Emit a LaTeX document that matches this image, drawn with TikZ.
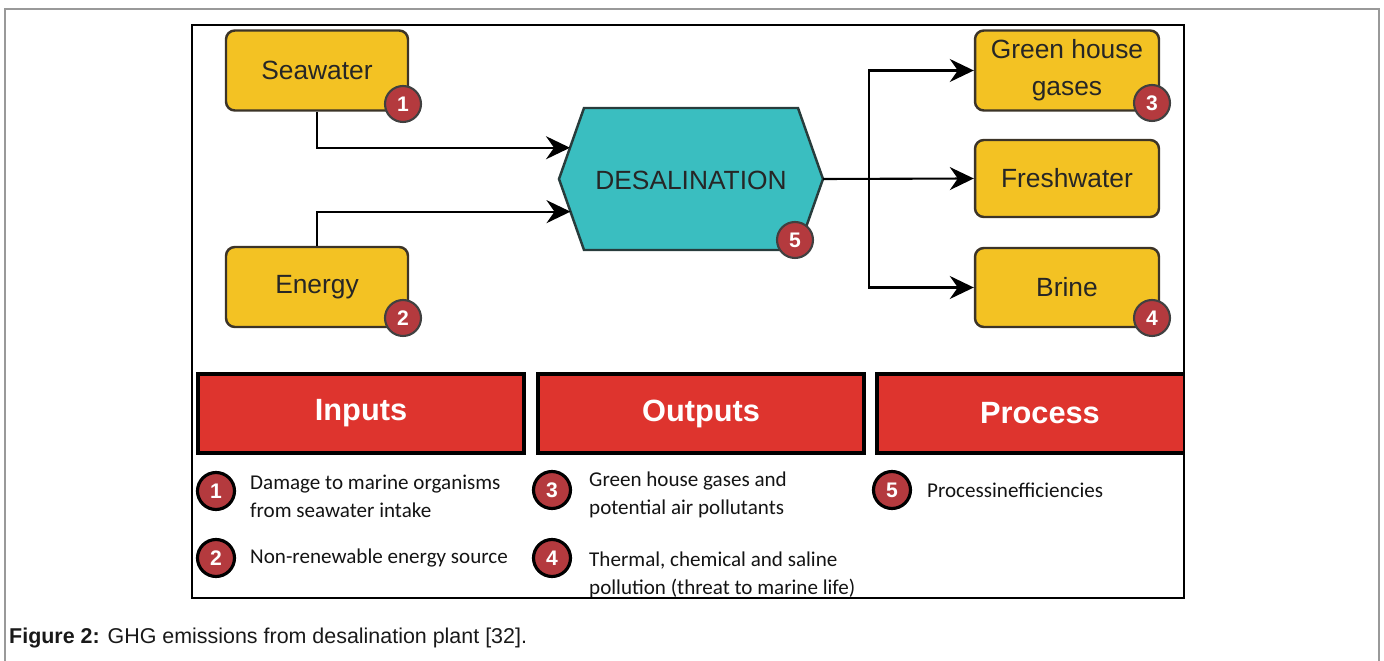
\documentclass[tikz,border=0pt]{standalone}
\usepackage{fontspec}
\setmainfont{Liberation Sans}
\newfontfamily\legendfont{Carlito}
\usetikzlibrary{calc,arrows.meta}
\definecolor{boxyellow}{RGB}{243,194,35}
\definecolor{boxedge}{RGB}{60,52,40}
\definecolor{hexteal}{RGB}{58,190,192}
\definecolor{hexedge}{RGB}{40,60,60}
\definecolor{badgered}{RGB}{180,58,62}
\definecolor{headred}{RGB}{222,52,46}

\begin{document}
\begin{tikzpicture}[x=0.02cm, y=-0.02cm,
    itembox/.style={draw=boxedge, line width=1.4pt, fill=boxyellow, rounded corners=5pt,
        minimum width=3.64cm, minimum height=1.6cm, align=center,
        font=\fontsize{15}{21}\selectfont, text=black!85},
    badge/.style={circle, draw=black!75, line width=1.2pt, fill=badgered, minimum size=0.72cm,
        inner sep=0pt, text=white, font=\bfseries\fontsize{12}{12}\selectfont},
    keybadge/.style={badge, draw=black, line width=1.8pt, minimum size=0.74cm},
    header/.style={draw=black, line width=2.4pt, fill=headred, text=white,
        minimum width=6.52cm, minimum height=1.58cm, font=\bfseries\fontsize{17.5}{20}\selectfont},
    keytext/.style={anchor=west, align=left, text=black!92,
        font=\legendfont\fontsize{12}{16}\selectfont},
    flow/.style={line width=1.2pt, -{Stealth[length=0.48cm, width=0.46cm, inset=0.16cm]}}]
    \useasboundingbox (0,0) rectangle (1384,661);
    % page frame
    \draw[black!40, line width=1pt] (5,680) |- (1379,9) -- (1379,680);

    \begin{scope}
    \clip (192,25) rectangle (1184,598);
    % inputs
    \node[itembox] (sea) at (317,70.5) {Seawater};
    \node[itembox] (energy) at (317,287) {Energy};
    % process
    \coordinate (hexW) at (559,179);
    \coordinate (hexNW) at (584,108);
    \coordinate (hexNE) at (798,108);
    \coordinate (hexE) at (823,179);
    \coordinate (hexSE) at (798,250);
    \coordinate (hexSW) at (584,250);
    \draw[draw=hexedge, line width=1.4pt, fill=hexteal]
        (hexW)--(hexNW)--(hexNE)--(hexE)--(hexSE)--(hexSW)--cycle;
    \node[font=\fontsize{15}{18}\selectfont, text=black!85] (desal) at (691,180) {DESALINATION};
    % outputs
    \node[itembox, minimum width=3.68cm] (ghg) at (1067,70.5) {Green house\\gases};
    \node[itembox, minimum width=3.68cm, minimum height=1.54cm] (fresh) at (1067,178.5) {Freshwater};
    \node[itembox, minimum width=3.68cm, minimum height=1.58cm] (brine) at (1067,287.5) {Brine};
    \coordinate (split) at (869,179);

    \draw[flow] (sea.south) |- ($(hexW)!0.44!(hexNW)$);
    \draw[flow] (energy.north) |- ($(hexW)!0.46!(hexSW)$);
    \draw[flow] (hexE) -- (fresh.west);
    \draw[flow] (split) |- (ghg.west);
    \draw[flow] (split) |- (brine.west);

    \node[badge] (b1) at (403,104) {1};
    \node[badge] (b2) at (403,318) {2};
    \node[badge] (b3) at (1152,103) {3};
    \node[badge] (b4) at (1152,318) {4};
    \node[badge] (b5) at (795,240) {5};

    % key
    \node[header] (hin) at (361,413.5) {Inputs};
    \node[header] (hout) at (701,413.5) {Outputs};
    \node[header] (hproc) at (1040,413.5) {Process};

    \node[keybadge] (k1) at (216,491) {1};
    \node[keybadge] (k2) at (216,558) {2};
    \node[keybadge] (k3) at (552,490) {3};
    \node[keybadge] (k4) at (552,558) {4};
    \node[keybadge] (k5) at (892,490) {5};
    \node[keytext] (t1) at (244,496) {Damage to marine organisms\\from seawater intake};
    \node[keytext] (t2) at (244,558) {Non-renewable energy source};
    \node[keytext] (t3) at (583,495) {Green house gases and\\potential air pollutants};
    \node[keytext] (t4) at (583,575) {Thermal, chemical and saline\\pollution (threat to marine life)};
    \node[keytext] (t5) at (921,490) {Processinefficiencies};
    \end{scope}
    \draw[black, line width=0.9pt] (192,25) rectangle (1184,598);

    % caption
    \node[anchor=base west, font=\fontsize{12.2}{14}\selectfont, text=black!90] (cap) at (3,644)
        {\textbf{Figure 2:} GHG emissions from desalination plant [32].};
\end{tikzpicture}
\end{document}
